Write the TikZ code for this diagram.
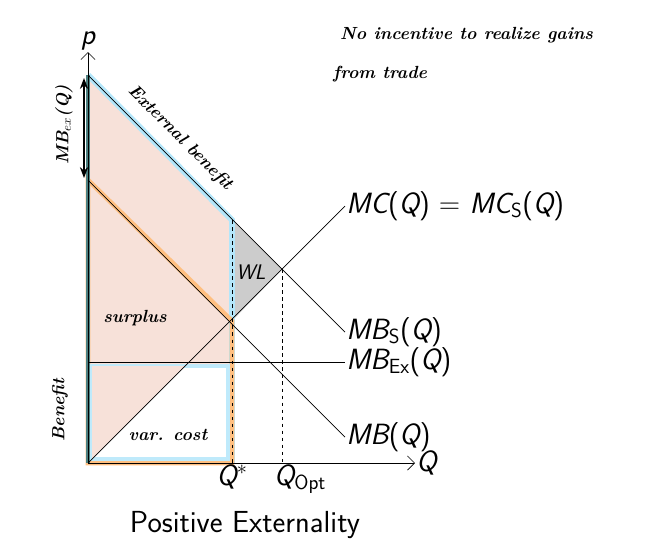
\documentclass[tikz,border=0pt]{standalone}
\usepackage{fontspec}
\usetikzlibrary{arrows.meta}
\tikzset{curve/.style={line width=0.6pt},lab/.style={anchor=west,font=\fontsize{25}{28}\selectfont\sffamily,inner sep=1pt},
hw/.style={font=\fontsize{15}{17}\selectfont\itshape\bfseries,inner sep=0pt}}
\begin{document}
\begin{tikzpicture}[x=0.03cm,y=-0.03cm]
\useasboundingbox (0,0) rectangle (649,550);
% shaded areas
\fill[red!30!brown!18] (88,75)--(232,220)--(232,463)--(88,463)--cycle;
\fill[gray!40] (232,220)--(282,269)--(232,321)--cycle;
\draw[cyan!30,line width=5pt] (88,75)--(232,220)--(232,463);
\draw[orange!50,line width=4pt] (88,180)--(232,321)--(232,463)--(88,463)--cycle;
\draw[cyan!25,line width=4pt,fill=white] (92,366)--(228,366)--(228,459)--(92,459)--cycle;
\fill[red!30!brown!18] (92,366)--(185,366)--(92,459)--cycle;
\draw[teal!40!gray,line width=3pt] (88,75)--(88,463);
% axes
\coordinate (O) at (88,463);
\coordinate (ytop) at (88,52);
\coordinate (xend) at (415,463);
\draw[-{Straight Barb[length=6pt]},line width=0.6pt] (O)--(ytop);
\draw[-{Straight Barb[length=6pt]},line width=0.6pt] (O)--(xend);
\node[lab,anchor=south] (p) at (ytop) {\itshape p};
\node[lab] (Q) at (xend) {\itshape Q};
% curves
\coordinate (mcs) at (88,463); \coordinate (mce) at (345,206);
\coordinate (mbs) at (88,180); \coordinate (mbe) at (345,437);
\coordinate (mbss) at (88,75); \coordinate (mbse) at (345,332);
\coordinate (exs) at (88,362); \coordinate (exe) at (345,362);
\draw[curve] (mcs)--(mce); \draw[curve] (mbs)--(mbe);
\draw[curve] (mbss)--(mbse); \draw[curve] (exs)--(exe);
\node[lab] (lmc) at (mce) {\itshape MC\upshape(\itshape Q\upshape) = \itshape MC$_{\mathsf{S}}$\upshape(\itshape Q\upshape)};
\node[lab] (lmb) at (mbe) {\itshape MB\upshape(\itshape Q\upshape)};
\node[lab] (lmbs) at (mbse) {\itshape MB$_{\mathsf{S}}$\upshape(\itshape Q\upshape)};
\node[lab] (lex) at (exe) {\itshape MB$_{\mathsf{Ex}}$\upshape(\itshape Q\upshape)};
% dashed
\coordinate (qs) at (232,463); \coordinate (qst) at (232,220);
\coordinate (qo) at (282,463); \coordinate (qot) at (282,269);
\draw[dashed] (qst)--(qs); \draw[dashed] (qot)--(qo);
\node[lab,anchor=north] (lqs) at (qs) {\itshape Q$^*$};
\node[lab,anchor=north] (lqo) at (300,463) {\itshape Q$_{\mathsf{Opt}}$};
\node[font=\fontsize{18}{20}\selectfont\sffamily] (wl) at (251,272) {\itshape WL};
\node[font=\fontsize{26}{30}\selectfont\sffamily] (title) at (245,525) {Positive Externality};
% handwriting
\draw[line width=1.4pt,{Stealth}-{Stealth}] (84,78)--(84,178);
\node[hw,rotate=90] (mbex) at (64,125) {MB$_{ex}$(Q)};
\node[hw,rotate=-45] (ext) at (180,138) {External benefit};
\node[hw] (sur) at (135,318) {surplus};
\node[hw] (vc) at (168,435) {var. cost};
\node[hw,rotate=90] (ben) at (60,410) {Benefit};
\node[hw,anchor=west] (n1) at (340,35) {No incentive to realize gains};
\node[hw,anchor=west] (n2) at (333,74) {from trade};
\end{tikzpicture}
\end{document}
